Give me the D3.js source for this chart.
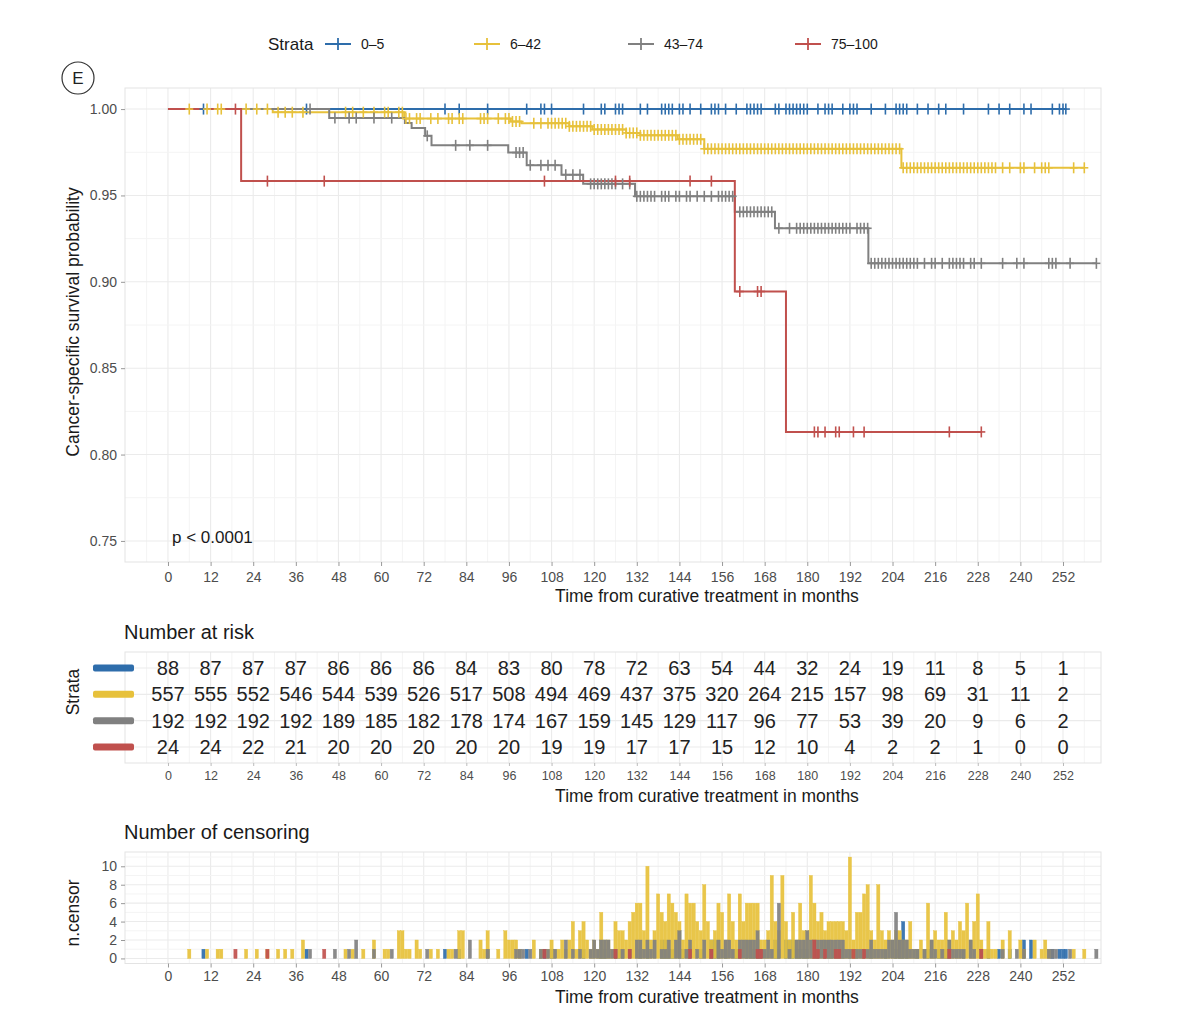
<!DOCTYPE html>
<html><head><meta charset="utf-8">
<script src="https://cdnjs.cloudflare.com/ajax/libs/d3/7.8.5/d3.min.js"></script>
<style>
body{margin:0;background:#fff;}
text{font-family:"Liberation Sans",Arial,Helvetica,sans-serif;}
</style>
</head><body>
<svg id="c" width="1200" height="1021"></svg>
<script>
// ---------------- DATA ----------------
const strataLabels = ["0–5", "6–42", "43–74", "75–100"];
const strataKeys = ["blue", "yellow", "gray", "red"];
const strataColors = ["#2E6DAB", "#E7C13B", "#808080", "#C0504D"];

const timeTicks = [0, 12, 24, 36, 48, 60, 72, 84, 96, 108, 120, 132, 144, 156, 168, 180, 192, 204, 216, 228, 240, 252];
const survTicks = [0.75, 0.80, 0.85, 0.90, 0.95, 1.00];
const censorTicks = [0, 2, 4, 6, 8, 10];

// Kaplan-Meier steps [time, survival]
const stepsBlue = [[0, 1.0]];
const stepsYellow = [[0, 1.0], [29.5, 0.9982], [66.5, 0.9945], [96.5, 0.9928], [99.5, 0.9918], [113, 0.990], [119.5, 0.9882], [129, 0.9862], [133, 0.9848], [143.5, 0.9825], [151, 0.977], [206.5, 0.966]];
const stepsGray = [[0, 1.0], [45.4, 0.9948], [66.7, 0.992], [68.6, 0.989], [72.4, 0.9845], [74.2, 0.979], [95.8, 0.9748], [101, 0.9675], [110.8, 0.962], [116.9, 0.9567], [131.5, 0.9495], [159.6, 0.9405], [170.9, 0.931], [197.2, 0.9107]];
const stepsRed = [[0, 1.0], [20.6, 0.9583], [159.6, 0.8944], [174, 0.8131]];

// censoring events [time, n.censor]
const censorBlue = [[10,1],[39,1],[78,1],[82,1],[90,1],[101,1],[105,1],[106,1],[108,1],[117,1],[122,2],[123,1],[126,1],[127,1],[128,1],[133,1],[135,1],[139,2],[140,2],[141,1],[142,1],[144,3],[145,1],[147,1],[150,1],[153,2],[154,2],[155,2],[157,1],[160,1],[163,2],[164,2],[165,1],[166,2],[167,1],[171,2],[172,1],[174,2],[175,2],[176,2],[177,1],[178,1],[179,1],[180,1],[183,1],[185,2],[186,2],[187,1],[190,1],[192,1],[193,1],[194,1],[198,1],[202,1],[205,1],[206,2],[207,4],[208,1],[211,1],[214,1],[217,1],[219,1],[224,1],[231,1],[234,1],[237,1],[241,2],[243,2],[249,1],[251,1],[252,1],[252.8,1]];
const censorYellow = [[6,1],[11,1],[14,1],[15,1],[22,1],[25,1],[28,1],[31,1],[33,1],[35,1],[38,2],[50,1],[52,1],[55,1],[58,2],[61,1],[62,1],[65,3],[66,3],[67,1],[68,1],[70,2],[71,1],[74,1],[76,1],[79,1],[80,1],[82,3],[83,3],[88,2],[89,1],[90,3],[93,1],[95,3],[96,2],[97,2],[98,2],[99,1],[103,2],[105,1],[107,1],
[108,2],[109,1],[110,1],[111,2],[112,1],[113,2],[114,4],[115,1],[116,3],[117,4],[118,2],[119,1],
[120,2],[121,1],[122,5],[123,2],[124,2],[125,1],[126,4],[127,3],[128,3],[129,2],[130,4],[131,5],
[132,6],[133,6],[134,3],[135,10],[136,2],[137,3],[138,7],[139,5],[140,4],[141,7],[142,6],[143,5],
[144,4],[145,2],[146,7],[147,6],[148,6],[149,4],[150,3],[151,8],[152,4],[153,2],[154,3],[155,6],
[156,5],[157,2],[158,7],[159,4],[160,2],[161,7],[162,4],[163,6],[164,6],[165,6],[166,6],[167,2],
[168,2],[169,3],[170,9],[171,4],[172,3],[173,9],[174,4],[175,2],[176,5],[177,2],[178,6],[179,3],
[180,3],[181,9],[182,6],[183,4],[184,5],[185,3],[186,4],[187,4],[188,4],[189,4],[190,4],[191,3],
[192,11],[193,2],[194,5],[195,5],[196,7],[197,8],[198,3],[199,2],[200,8],[201,3],[202,2],[203,3],
[204,2],[205,3],[206,3],[207,2],[208,2],[209,4],[210,1],[211,1],[212,2],[213,1],[214,6],[215,2],
[216,3],[217,2],[218,2],[219,5],[220,2],[221,3],[222,2],[223,4],[224,3],[225,6],[226,2],[227,4],
[228,7],[229,2],[230,1],[231,4],[232,1],[233,1],[235,2],[237,3],
[240,2],[241,1],[244,2],[246,1],[247,2],[248,1],[255,1],[258,1]];
const censorGray = [[40,1],[47,1],[51,1],[53,2],[58,1],[63,1],[73,1],[81,1],[85,2],[90,1],[98,1],[99,1],[100,1],[102,1],[105,1],[107,1],[109,1],[112,2],[114,1],[116,1],[119,1],
[120,2],[121,1],[122,2],[123,2],[124,2],[125,1],[126,1],[128,1],[130,1],
[132,2],[133,2],[134,1],[135,2],[136,1],[137,2],[139,1],[140,1],[141,2],[143,2],
[144,3],[146,1],[147,2],[149,1],[151,2],[153,1],[155,2],
[156,1],[157,2],[158,2],[159,1],[161,2],[162,2],[163,2],[164,2],[165,2],[166,3],[167,1],
[168,1],[169,2],[170,1],[172,6],[175,1],[177,2],[178,2],[179,2],
[180,3],[181,2],[182,2],[183,2],[184,2],[185,2],[186,2],[187,2],[188,2],[189,2],[190,2],[191,1],
[192,1],[194,1],[195,1],[196,1],[197,1],[198,2],[199,1],[200,1],[201,1],[202,1],[203,2],
[204,2],[205,5],[206,2],[207,2],[208,2],[209,1],[210,1],[211,1],[213,1],[215,2],
[216,1],[218,1],[220,2],[221,1],[222,1],[223,1],[224,1],[226,2],[227,1],
[229,1],[235,1],[239,1],[241,1],[248,1],[249,1],[250,1],[254,1],[261.4,1]];
const censorRed = [[19,1],[28,1],[44,1],[106,1],[126,1],[130,1],[147,1],[153,1],[161,1],[166,1],[167,1],[182,2],[183,1],[185,1],[188,1],[189,1],[193,1],[196,1],[220,1],[229,1]];

// number at risk
const riskBlue   = [88, 87, 87, 87, 86, 86, 86, 84, 83, 80, 78, 72, 63, 54, 44, 32, 24, 19, 11, 8, 5, 1];
const riskYellow = [557, 555, 552, 546, 544, 539, 526, 517, 508, 494, 469, 437, 375, 320, 264, 215, 157, 98, 69, 31, 11, 2];
const riskGray   = [192, 192, 192, 192, 189, 185, 182, 178, 174, 167, 159, 145, 129, 117, 96, 77, 53, 39, 20, 9, 6, 2];
const riskRed    = [24, 24, 22, 21, 20, 20, 20, 20, 20, 19, 19, 17, 17, 15, 12, 10, 4, 2, 2, 1, 0, 0];

const pText = "p < 0.0001";
const xTitle = "Time from curative treatment in months";

// ---------------- DRAW ----------------
const svg = d3.select("#c");
const PL = 125, PR = 1101;
const x = d3.scaleLinear().domain([-12.1, 262.7]).range([PL, PR]);
const gridMajor = "#EBEBEB", gridMinor = "#F4F4F4", borderCol = "#E3E3E3", tickCol = "#4D4D4D";

const series = [
  {steps: stepsBlue, censor: censorBlue, risk: riskBlue},
  {steps: stepsYellow, censor: censorYellow, risk: riskYellow},
  {steps: stepsGray, censor: censorGray, risk: riskGray},
  {steps: stepsRed, censor: censorRed, risk: riskRed}
];

function vGrid(g, top, bottom) {
  const minors = [-6].concat(timeTicks.map(t => t + 6));
  minors.forEach(t => { if (x(t) > PL && x(t) < PR) g.append("line").attr("x1", x(t)).attr("x2", x(t)).attr("y1", top).attr("y2", bottom).attr("stroke", gridMinor).attr("stroke-width", 1); });
  timeTicks.forEach(t => g.append("line").attr("x1", x(t)).attr("x2", x(t)).attr("y1", top).attr("y2", bottom).attr("stroke", gridMajor).attr("stroke-width", 1.1));
}
function hLine(g, yy, col, w) {
  g.append("line").attr("x1", PL).attr("x2", PR).attr("y1", yy).attr("y2", yy).attr("stroke", col).attr("stroke-width", w);
}
function border(g, top, bottom) {
  g.append("rect").attr("x", PL).attr("y", top).attr("width", PR - PL).attr("height", bottom - top).attr("fill", "none").attr("stroke", borderCol).attr("stroke-width", 1);
}
function styleAxis(ax, size) {
  ax.select(".domain").remove();
  ax.selectAll(".tick line").attr("stroke", "#999");
  ax.selectAll(".tick text").attr("fill", tickCol).style("font-size", size + "px").style("font-family", "Liberation Sans, Arial, sans-serif");
}

// ---- Legend ----
const lg = svg.append("g");
lg.append("text").attr("x", 268).attr("y", 50).text("Strata").style("font-size", "17px").attr("fill", "#1a1a1a");
const legX = [338, 487, 641, 808];
strataLabels.forEach((lab, i) => {
  const cx = legX[i], cy = 44;
  lg.append("line").attr("x1", cx - 13).attr("x2", cx + 13).attr("y1", cy).attr("y2", cy).attr("stroke", strataColors[i]).attr("stroke-width", 2);
  lg.append("line").attr("x1", cx).attr("x2", cx).attr("y1", cy - 6).attr("y2", cy + 6).attr("stroke", strataColors[i]).attr("stroke-width", 1.8);
  lg.append("text").attr("x", cx + 23).attr("y", cy + 5).text(lab).style("font-size", "14px").attr("fill", "#1a1a1a");
});

// ---- Panel label E ----
svg.append("circle").attr("cx", 78).attr("cy", 78).attr("r", 16).attr("fill", "none").attr("stroke", "#333").attr("stroke-width", 1.2);
svg.append("text").attr("x", 78).attr("y", 84).attr("text-anchor", "middle").text("E").style("font-size", "17px").attr("fill", "#222");

// ---- Main KM plot ----
const MT = 88, MB = 562;
const y = d3.scaleLinear().domain([0.7378, 1.0122]).range([MB, MT]);
const gm = svg.append("g");
vGrid(gm, MT, MB);
[0.775, 0.825, 0.875, 0.925, 0.975].forEach(v => hLine(gm, y(v), gridMinor, 1));
survTicks.forEach(v => hLine(gm, y(v), gridMajor, 1.1));
border(gm, MT, MB);

const axMx = svg.append("g").attr("transform", `translate(0,${MB})`).call(d3.axisBottom(x).tickValues(timeTicks).tickSize(4).tickPadding(6));
styleAxis(axMx, 14);
const axMy = svg.append("g").attr("transform", `translate(${PL},0)`).call(d3.axisLeft(y).tickValues(survTicks).tickFormat(d3.format(".2f")).tickSize(4).tickPadding(4));
styleAxis(axMy, 14);

function survAt(steps, t) { let s = steps[0][1]; steps.forEach(d => { if (d[0] <= t) s = d[1]; }); return s; }
const line = d3.line().x(d => x(d[0])).y(d => y(d[1])).curve(d3.curveStepAfter);
series.forEach((s, i) => {
  const end = d3.max(s.censor, d => d[0]);
  const pts = s.steps.concat([[end, s.steps[s.steps.length - 1][1]]]);
  gm.append("path").attr("d", line(pts)).attr("fill", "none").attr("stroke", strataColors[i]).attr("stroke-width", 2);
});
series.forEach((s, i) => {
  const g = gm.append("g").attr("stroke", strataColors[i]).attr("stroke-width", 1.6);
  s.censor.forEach(d => {
    const px = x(d[0]), py = y(survAt(s.steps, d[0]));
    g.append("line").attr("x1", px).attr("x2", px).attr("y1", py - 5.5).attr("y2", py + 5.5);
    g.append("line").attr("x1", px - 4).attr("x2", px + 4).attr("y1", py).attr("y2", py);
  });
});
svg.append("text").attr("x", 172).attr("y", 543).text(pText).style("font-size", "17px").attr("fill", "#1a1a1a");
svg.append("text").attr("x", 707).attr("y", 602).attr("text-anchor", "middle").text(xTitle).style("font-size", "17.5px").attr("fill", "#1a1a1a");
svg.append("text").attr("transform", "translate(79,322) rotate(-90)").attr("text-anchor", "middle").text("Cancer-specific survival probability").style("font-size", "17.5px").attr("fill", "#1a1a1a");

// ---- Risk table ----
const RT = 652, RB = 763;
const ry = d3.scalePoint().domain(strataKeys).range([668, 747]);
const gr = svg.append("g");
svg.append("text").attr("x", 124).attr("y", 639).text("Number at risk").style("font-size", "20px").attr("fill", "#1a1a1a");
vGrid(gr, RT, RB);
strataKeys.forEach(k => hLine(gr, ry(k), gridMajor, 1.1));
border(gr, RT, RB);
series.forEach((s, i) => {
  s.risk.forEach((v, j) => {
    gr.append("text").attr("x", x(timeTicks[j])).attr("y", ry(strataKeys[i]) + 7).attr("text-anchor", "middle").text(v).style("font-size", "20px").attr("fill", "#222");
  });
  gr.append("rect").attr("x", 93).attr("y", ry(strataKeys[i]) - 3.5).attr("width", 41).attr("height", 7).attr("rx", 2).attr("fill", strataColors[i]);
});
const axRx = svg.append("g").attr("transform", `translate(0,${RB})`).call(d3.axisBottom(x).tickValues(timeTicks).tickSize(3).tickPadding(5));
styleAxis(axRx, 12.5);
axRx.selectAll(".tick line").attr("stroke", "#bbb");
svg.append("text").attr("x", 707).attr("y", 802).attr("text-anchor", "middle").text(xTitle).style("font-size", "17.5px").attr("fill", "#1a1a1a");
svg.append("text").attr("transform", "translate(79,692) rotate(-90)").attr("text-anchor", "middle").text("Strata").style("font-size", "17.5px").attr("fill", "#1a1a1a");

// ---- Censoring plot ----
const CT = 852, CB = 963.5;
const cy = d3.scaleLinear().domain([-0.55, 11.55]).range([CB, CT]);
const gc = svg.append("g");
svg.append("text").attr("x", 124).attr("y", 839).text("Number of censoring").style("font-size", "20px").attr("fill", "#1a1a1a");
vGrid(gc, CT, CB);
[1, 3, 5, 7, 9, 11].forEach(v => hLine(gc, cy(v), gridMinor, 1));
censorTicks.forEach(v => hLine(gc, cy(v), gridMajor, 1.1));
border(gc, CT, CB);

// bars overlap (identity position), drawn in strata order
const bw = x(0.9) - x(0);
series.forEach((s, i) => {
  gc.append("g").selectAll("rect").data(s.censor).join("rect")
    .attr("x", d => x(d[0]) - bw / 2).attr("width", bw)
    .attr("y", d => cy(d[1])).attr("height", d => cy(0) - cy(d[1]))
    .attr("fill", strataColors[i]).attr("fill-opacity", 0.92)
    .attr("stroke", strataColors[i]).attr("stroke-width", 0.4);
});
const axCx = svg.append("g").attr("transform", `translate(0,${CB})`).call(d3.axisBottom(x).tickValues(timeTicks).tickSize(4).tickPadding(4));
styleAxis(axCx, 14);
const axCy = svg.append("g").attr("transform", `translate(${PL},0)`).call(d3.axisLeft(cy).tickValues(censorTicks).tickSize(4).tickPadding(4));
styleAxis(axCy, 14);
svg.append("text").attr("x", 707).attr("y", 1003).attr("text-anchor", "middle").text(xTitle).style("font-size", "17.5px").attr("fill", "#1a1a1a");
svg.append("text").attr("transform", "translate(79,913) rotate(-90)").attr("text-anchor", "middle").text("n.censor").style("font-size", "17.5px").attr("fill", "#1a1a1a");
</script>
</body></html>
